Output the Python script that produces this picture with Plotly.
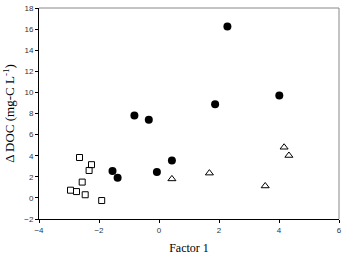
import plotly.graph_objects as go

circ_x = [-0.82, -0.34, 2.28, 1.87, 4.01, -1.55, -1.38, -0.07, 0.43]
circ_y = [7.8, 7.4, 16.25, 8.87, 9.7, 2.56, 1.9, 2.45, 3.55]
sq_x = [-2.65, -2.25, -2.33, -2.56, -2.95, -2.75, -2.46, -1.91]
sq_y = [3.83, 3.15, 2.6, 1.5, 0.73, 0.6, 0.3, -0.25]
tri_x = [0.43, 1.68, 3.54, 4.17, 4.33]
tri_y = [1.8, 2.35, 1.13, 4.8, 4.02]

fig = go.Figure()
fig.add_trace(go.Scatter(x=circ_x, y=circ_y, mode="markers",
                         marker=dict(symbol="circle", size=8, color="black")))
fig.add_trace(go.Scatter(x=sq_x, y=sq_y, mode="markers",
                         marker=dict(symbol="square-open", size=6, color="black", line=dict(width=1))))
fig.add_trace(go.Scatter(x=tri_x, y=tri_y, mode="markers",
                         marker=dict(symbol="triangle-up-open", size=7, color="black", line=dict(width=1))))

fig.update_layout(
    width=346, height=257, showlegend=False,
    margin=dict(l=39, r=4, t=6, b=37),
    plot_bgcolor="white", paper_bgcolor="white",
    shapes=[dict(type="line", xref="paper", yref="paper", x0=0, x1=1, y0=1, y1=1,
                 line=dict(color="#888888", width=1)),
            dict(type="line", xref="paper", yref="paper", x0=1, x1=1, y0=0, y1=1,
                 line=dict(color="#888888", width=1))],
)
fig.update_xaxes(range=[-4, 6], tickvals=[-4, -2, 0, 2, 4, 6], showgrid=False, zeroline=False,
                 showline=True, linecolor="black", linewidth=1, ticks="outside", ticklen=3,
                 tickcolor="black",
                 tickfont=dict(family="Arial", size=8, color="#333333"),
                 title=dict(text="Factor 1", font=dict(family="Times New Roman, Liberation Serif", size=12, color="black"),
                            standoff=10))
fig.update_yaxes(range=[-2, 18], tickvals=list(range(-2, 19, 2)), showgrid=False, zeroline=False,
                 showline=True, linecolor="black", linewidth=1, ticks="outside", ticklen=3,
                 tickcolor="black",
                 tickfont=dict(family="Arial", size=8, color="#333333"),
                 title=dict(text="Δ DOC (mg-C L<sup>-1</sup>)", font=dict(family="Times New Roman, Liberation Serif", size=13, color="black"),
                            standoff=6))

fig.write_html("out.html")
